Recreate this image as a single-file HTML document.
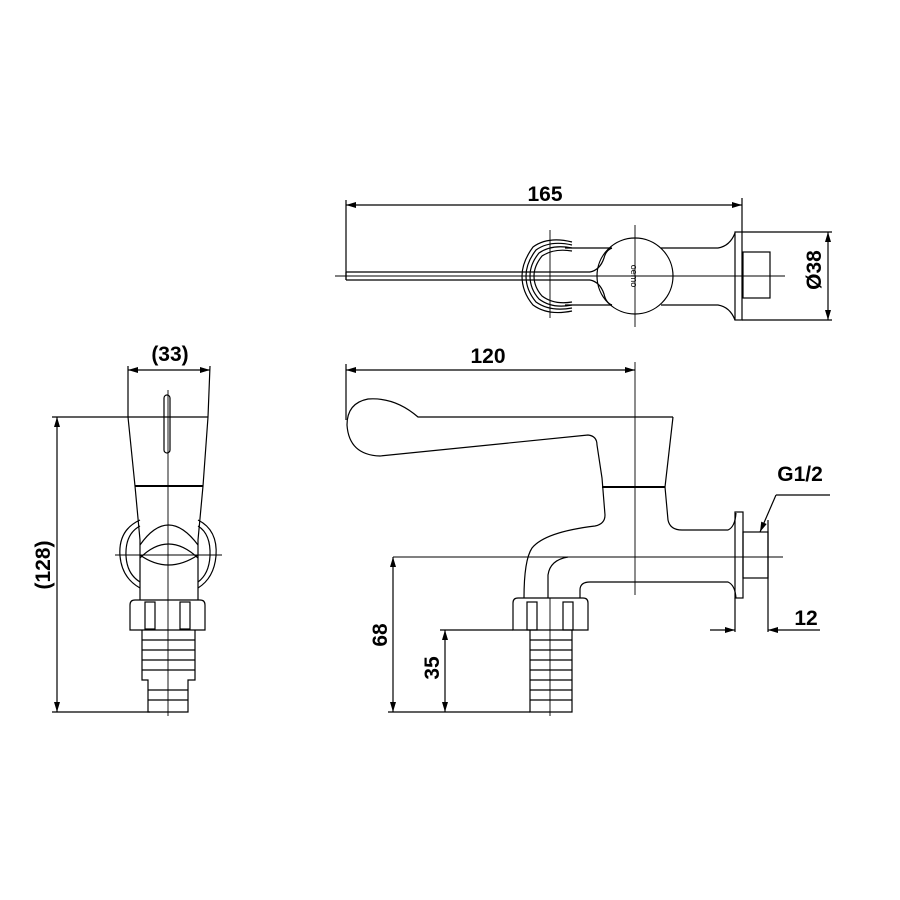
<!DOCTYPE html>
<html><head><style>html,body{margin:0;padding:0;background:#fff}svg{display:block}</style></head><body>
<svg width="900" height="900" viewBox="0 0 900 900" xmlns="http://www.w3.org/2000/svg" font-family="Liberation Sans, sans-serif">
<defs>
<marker id="a" viewBox="0 0 10 6" refX="10" refY="3" markerWidth="11" markerHeight="6" orient="auto-start-reverse" markerUnits="userSpaceOnUse"><path d="M0,0 L10,3 L0,6 Z" fill="#000"/></marker>
</defs>
<g stroke="#000" stroke-width="1.2" fill="none">
<!-- TOP VIEW -->
<line x1="346" y1="205" x2="742" y2="205" marker-start="url(#a)" marker-end="url(#a)"/>
<line x1="346" y1="200" x2="346" y2="280"/>
<line x1="742" y1="198" x2="742" y2="232"/>
<line x1="335" y1="276" x2="785" y2="276" stroke-width="0.9"/>
<path d="M346,272 L590,272 M346,280 L590,280 M346,272 L346,280"/>
<path d="M590,272 Q600,270 604,258 Q606,250 612,248 M590,280 Q600,282 604,294 Q606,303 612,305"/>
<circle cx="635" cy="276" r="38"/>
<path d="M565,248 L612,248 M565,305 L612,305"/>
<path d="M661,248 L718,248 Q730,246 735,233 M661,305 L718,305 Q730,307 735,320"/>
<path d="M572,242 Q548,236 533,247 Q522,262 522,276 Q522,292 533,305 Q548,316 572,311"/>
<path d="M572,245 Q550,240 536,250 Q526,263 526,276 Q526,290 536,302 Q550,312 572,308"/>
<path d="M572,248 Q552,244 539,253 Q530,264 530,276 Q530,289 539,299 Q552,309 572,305"/>
<path d="M572,251 Q554,248 542,256 Q534,266 534,276 Q534,287 542,296 Q554,305 572,302"/>
<rect x="735" y="232" width="7" height="88"/>
<path d="M742,232 L832,232 M742,320 L832,320"/>
<rect x="743" y="252" width="27" height="46"/>
<line x1="550" y1="230" x2="550" y2="318" stroke-width="0.9"/>
<line x1="635" y1="225" x2="635" y2="327" stroke-width="0.9"/>
<line x1="828" y1="232" x2="828" y2="320" marker-start="url(#a)" marker-end="url(#a)"/>

<!-- SIDE VIEW -->
<line x1="346" y1="370" x2="635" y2="370" marker-start="url(#a)" marker-end="url(#a)"/>
<line x1="346" y1="364" x2="346" y2="420"/>
<line x1="635" y1="362" x2="635" y2="595" stroke-width="0.9"/>
<path d="M673,417 L418,417 Q395,397 368,399 Q347,403 347,425 Q349,455 380,456 L588,435 Q597,436 597,445 L602,478 L605,515 Q605,524 595,526 Q545,532 532,548 Q524,560 524,598"/>
<path d="M673,417 L665,487 L668,520 Q670,530 682,530 L728,530 Q735,527 736,513"/>
<line x1="602" y1="487" x2="665" y2="487" stroke-width="2"/>
<path d="M548,598 L548,575 Q550,560 568,557"/>
<path d="M580,598 L580,590 Q580,582 590,582 L728,582 Q735,585 736,598"/>
<rect x="735" y="512" width="8" height="86"/>
<rect x="743" y="532" width="25" height="46"/>
<line x1="768" y1="520" x2="768" y2="632"/>
<line x1="735" y1="598" x2="735" y2="632"/>
<line x1="393" y1="557" x2="783" y2="557" stroke-width="0.9"/>
<path d="M513,603 Q513,598 518,598 L583,598 Q588,598 588,603 L588,630 L513,630 Z"/>
<rect x="527" y="602" width="10" height="28"/>
<rect x="563" y="602" width="10" height="28"/>
<path d="M530,630 L530,712 L572,712 L572,630"/>
<path d="M530,640 L572,640 M530,650 L572,650 M530,660 L572,660 M530,670 L572,670 M530,680 L572,680 M530,690 L572,690 M530,700 L572,700"/>
<line x1="550" y1="598" x2="550" y2="716" stroke-width="0.9"/>
<line x1="393" y1="557" x2="393" y2="712" marker-start="url(#a)" marker-end="url(#a)"/>
<line x1="445" y1="630" x2="445" y2="712" marker-start="url(#a)" marker-end="url(#a)"/>
<line x1="388" y1="712" x2="530" y2="712"/>
<line x1="440" y1="630" x2="513" y2="630"/>
<line x1="710" y1="630" x2="735" y2="630" marker-end="url(#a)"/>
<line x1="820" y1="630" x2="768" y2="630" marker-end="url(#a)"/>
<path d="M776,495 L760,532" marker-end="url(#a)"/>
<line x1="776" y1="495" x2="830" y2="495"/>

<!-- FRONT VIEW -->
<line x1="128" y1="370" x2="210" y2="370" marker-start="url(#a)" marker-end="url(#a)"/>
<path d="M128,366 L128,417 L135,486 L140,540 L140,600 M210,366 L208,417 L203,486 L198,540 L198,600"/>
<line x1="52" y1="417" x2="208" y2="417"/>
<line x1="135" y1="486" x2="203" y2="486" stroke-width="2"/>
<rect x="164" y="395" width="6" height="58" rx="3"/>
<path d="M140,545 Q168,505 198,545"/>
<path d="M140,558 Q168,530 198,558"/>
<path d="M140,555 Q168,575 198,555"/>
<path d="M140,520 Q118,530 120,556 Q122,578 140,588"/>
<path d="M140,526 Q125,534 126,556 Q127,574 140,582"/>
<path d="M198,520 Q218,530 216,556 Q214,578 198,588"/>
<path d="M198,526 Q211,534 210,556 Q209,574 198,582"/>
<line x1="115" y1="555" x2="222" y2="555" stroke-width="0.9"/>
<path d="M130,605 Q130,600 135,600 L200,600 Q205,600 205,605 L205,630 L130,630 Z"/>
<rect x="145" y="602" width="10" height="27"/>
<rect x="180" y="602" width="10" height="27"/>
<path d="M142,630 L142,680 L148,680 L148,712 L188,712 L188,680 L195,680 L195,630"/>
<path d="M142,640 L195,640 M142,650 L195,650 M142,660 L195,660 M142,670 L195,670 M148,690 L188,690 M148,700 L188,700"/>
<line x1="168" y1="390" x2="168" y2="716" stroke-width="0.9"/>
<line x1="57" y1="417" x2="57" y2="712" marker-start="url(#a)" marker-end="url(#a)"/>
<line x1="52" y1="712" x2="150" y2="712"/>
</g>
<g font-size="21" font-weight="bold" fill="#000">
<text x="545" y="201" text-anchor="middle">165</text>
<text x="488" y="363" text-anchor="middle">120</text>
<text x="170" y="361" text-anchor="middle">(33)</text>
<text x="800" y="481" text-anchor="middle">G1/2</text>
<text x="806" y="625" text-anchor="middle">12</text>
<text transform="translate(821,270) rotate(-90)" text-anchor="middle">Ø38</text>
<text transform="translate(387,635) rotate(-90)" text-anchor="middle">68</text>
<text transform="translate(439,668) rotate(-90)" text-anchor="middle">35</text>
<text transform="translate(50,565) rotate(-90)" text-anchor="middle">(128)</text>
</g>
<text transform="translate(631,276) rotate(90)" text-anchor="middle" font-size="9" font-family="Liberation Sans, sans-serif">oemo</text>
</svg>
</body></html>
